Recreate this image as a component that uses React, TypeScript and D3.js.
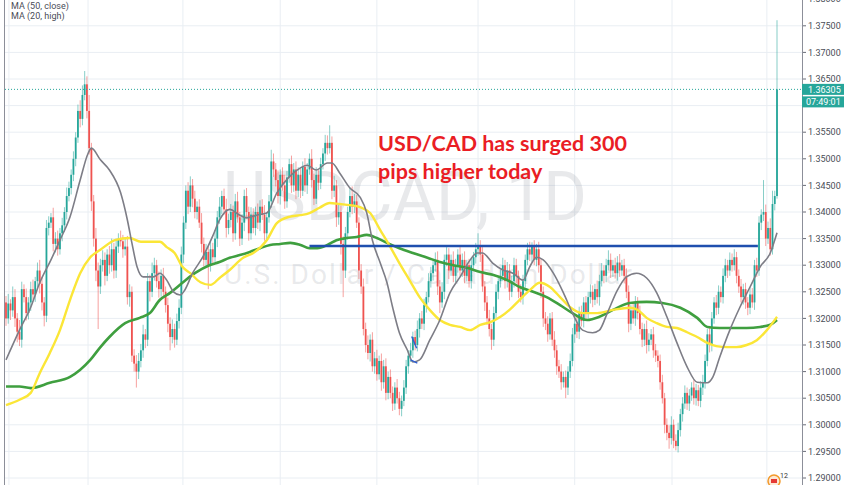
import React from 'react';
import * as d3 from 'd3';

// Daily USD/CAD closes in pips above 1.0000 (e.g. 3215 -> 1.3215)
const closes: number[] = [
  3200, 3228, 3215, 3240, 3200, 3175, 3160, 3255, 3240, 3210,
  3230, 3255, 3245, 3270, 3290, 3265, 3230, 3205, 3370, 3380,
  3390, 3340, 3350, 3330, 3360, 3375, 3400, 3430, 3445, 3470,
  3500, 3540, 3590, 3575, 3620, 3640, 3590, 3520, 3420, 3350,
  3290, 3260, 3300, 3310, 3280, 3320, 3300, 3330, 3290, 3335,
  3350, 3345, 3330, 3335, 3240, 3250, 3130, 3115, 3100, 3120,
  3140, 3170, 3160, 3270, 3250, 3285, 3300, 3270, 3255, 3280,
  3250, 3225, 3190, 3165, 3180, 3160, 3195, 3220, 3320, 3380,
  3440, 3410, 3450, 3425, 3400, 3410, 3380, 3340, 3310, 3325,
  3300, 3330, 3315, 3350, 3390, 3410, 3430, 3405, 3370, 3385,
  3400, 3360, 3420, 3390, 3350, 3380, 3430, 3400, 3360, 3395,
  3370, 3400, 3380, 3410, 3395, 3360, 3390, 3420, 3495, 3480,
  3460, 3430, 3470, 3450, 3420, 3465, 3490, 3450, 3480, 3440,
  3470, 3440, 3485, 3450, 3480, 3500, 3460, 3425, 3470, 3455,
  3490, 3510, 3530, 3520, 3530, 3440, 3450, 3390, 3400, 3340,
  3290, 3360, 3400, 3430, 3410, 3420, 3380, 3290, 3260, 3180,
  3150, 3135, 3160, 3110, 3125, 3095, 3120, 3080, 3110, 3060,
  3090, 3060, 3040, 3070, 3050, 3030, 3045, 3070, 3110, 3130,
  3140, 3165, 3150, 3180, 3200, 3190, 3225, 3240, 3270, 3285,
  3300, 3310, 3260, 3230, 3250, 3310, 3320, 3290, 3310, 3280,
  3300, 3320, 3290, 3310, 3280, 3300, 3270, 3300, 3315, 3330,
  3335, 3320, 3260, 3230, 3200, 3180, 3160, 3210, 3250, 3270,
  3280, 3300, 3270, 3290, 3250, 3270, 3300, 3280, 3250, 3240,
  3270, 3310, 3330, 3320, 3335, 3310, 3330, 3300, 3250, 3200,
  3190, 3170, 3200, 3160, 3140, 3110, 3100, 3080, 3090, 3070,
  3100, 3120, 3170, 3190, 3175, 3210, 3195, 3230, 3210, 3240,
  3250, 3235, 3255, 3240, 3270, 3290, 3280, 3300, 3310, 3290,
  3300, 3285, 3305, 3290, 3300, 3280, 3250, 3190, 3215, 3200,
  3230, 3210, 3180, 3160, 3180, 3150, 3160, 3170, 3140, 3130,
  3120, 3080, 3050, 3000, 2985, 2975, 3000, 2970, 2960, 2990,
  3020, 3040, 3060, 3040, 3055, 3070, 3050, 3065, 3045, 3070,
  3080, 3120, 3170, 3150, 3200, 3230, 3220, 3250, 3240, 3280,
  3300, 3290, 3310, 3300, 3315, 3280, 3260, 3240, 3255, 3230,
  3220, 3245, 3230, 3300, 3290, 3380, 3395, 3400, 3350, 3370, 3330, 3415, 3430, 3630.5,
];
const firstOpen = 3230;

// Upper / lower shadows in pips beyond the candle body
const upperWicks: number[] = [
  12, 18, 8, 20, 15, 10, 22, 14, 9, 16,
  10, 14, 18, 8, 15, 20, 12, 10, 15, 12,
  8, 18, 12, 15, 10, 14, 9, 16, 12, 10,
  14, 10, 12, 20, 18, 25, 15, 30, 10, 12,
  20, 15, 12, 18, 14, 10, 16, 20, 12, 15,
  10, 15, 12, 18, 20, 14, 10, 12, 16, 15,
  12, 18, 10, 15, 12, 20, 14, 10, 18, 12,
  15, 10, 14, 12, 18, 10, 14, 16, 15, 12,
  10, 16, 17, 12, 15, 10, 14, 18, 12, 15,
  10, 14, 12, 16, 12, 18, 10, 14, 20, 12,
  15, 12, 14, 18, 10, 16, 12, 15, 10, 14,
  12, 10, 16, 12, 14, 18, 10, 12, 22, 15,
  12, 18, 10, 14, 20, 12, 10, 16, 12, 15,
  14, 12, 10, 16, 12, 10, 18, 12, 14, 10,
  12, 10, 15, 14, 33, 12, 18, 10, 15, 12,
  14, 12, 10, 15, 18, 14, 12, 10, 12, 15,
  12, 18, 10, 14, 12, 16, 10, 14, 12, 15,
  10, 14, 12, 10, 16, 12, 10, 14, 12, 10,
  14, 10, 12, 16, 10, 14, 12, 10, 15, 12,
  10, 14, 16, 12, 18, 10, 14, 12, 10, 16,
  12, 10, 14, 12, 16, 10, 12, 14, 10, 12,
  25, 12, 14, 10, 12, 16, 10, 12, 14, 10,
  12, 14, 10, 16, 12, 10, 14, 12, 10, 14,
  12, 10, 12, 14, 8, 12, 10, 14, 12, 10,
  12, 14, 10, 12, 16, 10, 12, 14, 10, 12,
  10, 14, 12, 10, 16, 12, 14, 10, 12, 10,
  14, 12, 10, 16, 12, 14, 10, 12, 18, 12,
  10, 14, 12, 16, 10, 12, 14, 12, 10, 14,
  12, 10, 14, 12, 10, 16, 12, 10, 14, 12,
  10, 12, 14, 10, 12, 14, 16, 10, 12, 14,
  10, 12, 14, 10, 12, 10, 14, 12, 10, 12,
  14, 12, 10, 16, 12, 10, 14, 12, 10, 14,
  12, 10, 14, 12, 15, 10, 12, 14, 10, 12,
  10, 14, 12, 10, 14, 12, 10, 60, 14, 12, 18, 25, 10, 130,
];
const lowerWicks: number[] = [
  14, 10, 18, 12, 16, 20, 12, 15, 10, 14,
  12, 16, 10, 14, 12, 18, 15, 20, 12, 14,
  10, 14, 16, 12, 10, 15, 12, 14, 10, 12,
  12, 14, 10, 16, 12, 10, 14, 12, 18, 15,
  20, 80, 14, 12, 18, 10, 16, 12, 15, 14,
  12, 10, 16, 12, 14, 18, 12, 15, 30, 14,
  12, 14, 16, 12, 18, 10, 14, 12, 16, 14,
  12, 14, 16, 25, 12, 15, 10, 14, 12, 16,
  12, 14, 10, 16, 12, 14, 10, 16, 12, 15,
  45, 12, 14, 10, 16, 12, 14, 10, 18, 12,
  14, 16, 12, 10, 14, 12, 16, 10, 14, 12,
  10, 14, 12, 16, 10, 14, 12, 10, 12, 14,
  12, 14, 16, 10, 14, 12, 10, 14, 12, 16,
  12, 14, 10, 12, 16, 10, 14, 12, 10, 14,
  12, 10, 14, 12, 10, 16, 12, 18, 14, 20,
  50, 14, 12, 10, 14, 12, 10, 16, 14, 12,
  14, 12, 16, 10, 14, 12, 10, 16, 12, 14,
  12, 10, 14, 12, 10, 12, 14, 10, 12, 14,
  12, 14, 10, 12, 16, 10, 12, 14, 10, 12,
  14, 12, 16, 20, 10, 14, 12, 16, 10, 12,
  12, 14, 10, 12, 14, 10, 12, 14, 10, 12,
  12, 14, 10, 16, 12, 14, 19, 12, 10, 14,
  12, 10, 14, 12, 16, 10, 12, 14, 12, 10,
  14, 12, 10, 12, 14, 10, 12, 14, 12, 16,
  12, 14, 10, 12, 14, 16, 12, 14, 10, 20,
  14, 12, 10, 16, 12, 14, 10, 12, 14, 10,
  12, 14, 10, 12, 16, 10, 14, 12, 10, 14,
  12, 10, 14, 12, 10, 14, 12, 16, 12, 10,
  14, 12, 10, 14, 12, 16, 12, 10, 14, 12,
  12, 14, 10, 16, 14, 20, 12, 14, 8, 12,
  12, 14, 10, 12, 14, 10, 12, 14, 10, 12,
  14, 12, 10, 14, 12, 10, 14, 12, 10, 12,
  12, 14, 10, 12, 10, 14, 12, 10, 14, 12,
  14, 12, 10, 14, 12, 10, 14, 12, 14, 10, 12, 10, 12, 5,
];

// Moving averages: [candle index, pips]
const maGray: [number, number][] = [
  [0, 3122], [6, 3178], [11, 3221], [15, 3267], [20, 3310], [24, 3347], [28.5, 3391], [33, 3460],
  [36.5, 3510], [38, 3520], [42, 3498], [46, 3479], [51, 3436], [54, 3385], [56, 3342], [58.3, 3297],
  [61, 3278], [65.5, 3278], [68.5, 3285], [71.5, 3272], [74.5, 3250], [77.5, 3244], [79.5, 3253],
  [83, 3285], [87.5, 3315], [92, 3355], [95, 3385], [99.5, 3405], [104, 3394], [107, 3389],
  [111.5, 3394], [116, 3398], [120.5, 3436], [126, 3466], [131, 3483], [134, 3488], [138, 3479],
  [143, 3492], [145, 3492], [148.5, 3473], [153, 3445], [157.5, 3428], [160.5, 3398], [163, 3347],
  [166.5, 3304], [169.5, 3267], [172, 3221], [175, 3173], [178.5, 3141], [181, 3118], [184, 3122],
  [188.5, 3159], [193, 3197], [197.5, 3248], [202, 3278], [206.5, 3310], [209.5, 3323], [212, 3323],
  [216.5, 3304], [221, 3291], [225.5, 3285], [230, 3272], [233, 3297], [236, 3315], [239, 3310],
  [243.5, 3285], [248, 3248], [252, 3210], [256.5, 3178], [261, 3173], [264, 3178], [267.5, 3210],
  [272, 3253], [276, 3278], [280.5, 3285], [285, 3276], [289.5, 3248], [294, 3203], [298.5, 3154],
  [303, 3109], [307.5, 3080], [312, 3079], [314.5, 3090], [317.5, 3127], [322, 3178], [326.5, 3221],
  [331, 3259], [335.5, 3297], [340, 3323], [343, 3361],
];
const maYellow: [number, number][] = [
  [0, 3037], [6, 3047], [11, 3060], [15, 3097], [19.5, 3135], [24, 3178], [28.5, 3235], [33, 3285],
  [37.5, 3315], [42, 3329], [48.5, 3347], [55, 3351], [60, 3344], [68.5, 3344], [71.5, 3334],
  [75, 3323], [78.5, 3297], [82, 3285], [86.5, 3268], [91, 3263], [95, 3276], [99.5, 3291],
  [105.5, 3314], [110, 3323], [116, 3347], [120.5, 3379], [126, 3391], [131, 3394], [135, 3398],
  [139.5, 3408], [144, 3417], [148.5, 3415], [153, 3413], [157.5, 3409], [162, 3398], [166.5, 3366],
  [171, 3334], [175, 3304], [179.5, 3272], [184, 3240], [188.5, 3216], [193, 3197], [197.5, 3188],
  [202, 3184], [206.5, 3178], [211, 3188], [215.5, 3193], [220, 3203], [224, 3216], [228.5, 3235],
  [233, 3253], [237.5, 3267], [242, 3259], [246.5, 3240], [251, 3221], [256.5, 3210], [263, 3210],
  [270, 3216], [277.5, 3220], [281, 3216], [285, 3201], [289.5, 3191], [294, 3184], [298.5, 3182],
  [303, 3174], [307.5, 3165], [312, 3154], [316, 3148], [321, 3146], [325, 3146], [329.5, 3150],
  [334, 3159], [338.5, 3178], [343, 3203],
];
const maGreen: [number, number][] = [
  [0, 3072], [6, 3072], [11, 3069], [19.5, 3079], [28.5, 3090], [37.5, 3122], [42, 3146], [46, 3165],
  [53, 3191], [59.5, 3201], [64, 3210], [68.5, 3235], [73, 3248], [78.5, 3267], [84, 3285],
  [90.5, 3300], [95, 3306], [99.5, 3314], [104, 3319], [108.5, 3325], [113, 3332], [117.5, 3338],
  [122, 3340], [126.5, 3342], [131, 3338], [135, 3332], [138.5, 3332], [143, 3338], [147, 3347],
  [151.5, 3351], [156, 3353], [160.5, 3357], [165, 3351], [169.5, 3342], [175, 3332], [181, 3323],
  [187.5, 3314], [193, 3306], [199, 3300], [205, 3295], [211, 3287], [216.5, 3282], [223, 3272],
  [228.5, 3259], [234.5, 3250], [240.5, 3240], [246.5, 3225], [252, 3210], [258.5, 3197], [264, 3203],
  [270, 3216], [277.5, 3229], [285, 3231], [292, 3229], [300, 3220], [307.5, 3201], [312, 3184],
  [317.5, 3182], [323.5, 3182], [329.5, 3182], [335.5, 3184], [340, 3188], [343, 3197],
];

const priceTickLabels = [
  '1.29000', '1.29500', '1.30000', '1.30500', '1.31000', '1.31500', '1.32000', '1.32500', '1.33000',
  '1.33500', '1.34000', '1.34500', '1.35000', '1.35500', '1.36000', '1.36500', '1.37000', '1.37500', '1.38000',
];
// candle indices of the period starts marked by vertical grid lines
const periodStartIdx = [1.3, 36.5, 78.7, 122, 165, 210, 253, 296.3, 338.5];
// horizontal resistance drawn on the chart: [startIdx, endIdx, pips]
const resistance: [number, number, number] = [135, 334.5, 3336];
// small blue drawing near the July low: segments [idx1, pips1, idx2, pips2]
const markerSegments: [number, number, number, number][] = [
  [180.5, 3166, 182.7, 3144],
  [180, 3122, 183, 3116],
];
const lastPriceLabel = '1.36305';
const lastPrice = 1.36305;
const countdownLabel = '07:49:01';
const legendLabels = ['MA (50, close)', 'MA (20, high)'];
const watermarkTitle = 'USDCAD, 1D';
const watermarkSubtitle = 'U.S. Dollar / Canadian Dollar';
const annotationLines = ['USD/CAD has surged 300', 'pips higher today'];

export default function App() {
  const W = 852;
  const H = 485;
  const plotLeft = 5;
  const plotRight = 802;
  const x = d3.scaleLinear().domain([0, closes.length - 1]).range([6, 777]);
  const y = d3.scaleLinear().domain([1.29, 1.38]).range([478, -0.8]);
  const px = (v: number) => 1 + v / 10000;

  const candles = closes.map((c, i) => {
    const o = i === 0 ? firstOpen : closes[i - 1];
    return {
      i,
      o: px(o),
      c: px(c),
      h: px(Math.max(o, c) + upperWicks[i]),
      l: px(Math.min(o, c) - lowerWicks[i]),
    };
  });

  const line = d3
    .line<[number, number]>()
    .x((d) => x(d[0]))
    .y((d) => y(px(d[1])))
    .curve(d3.curveMonotoneX);

  const up = '#26a69a';
  const down = '#ef5350';
  const grid = '#e9eef3';
  const font = 'Roboto, "Liberation Sans", sans-serif';
  const yLast = y(lastPrice);
  // the last-price and countdown tags hide axis labels underneath them
  const visibleTicks = priceTickLabels.filter((t) => {
    const ty = y(+t);
    return !(ty > yLast - 8 && ty < yLast + 21);
  });

  return (
    <svg
      width={W}
      height={H}
      viewBox={`0 0 ${W} ${H}`}
      style={{ position: 'absolute', left: 0, top: 0, background: '#fff', display: 'block' }}
    >
      <defs>
        <clipPath id="plotClip">
          <rect x={plotLeft} y={0} width={plotRight - plotLeft} height={H} />
        </clipPath>
      </defs>
      <rect x={0} y={0} width={W} height={H} fill="#ffffff" />

      <g clipPath="url(#plotClip)">
        {priceTickLabels.map((t) => (
          <line key={t} x1={plotLeft} x2={plotRight} y1={y(+t)} y2={y(+t)} stroke={grid} strokeWidth={1} />
        ))}
        {periodStartIdx.map((m) => (
          <line key={m} x1={x(m)} x2={x(m)} y1={0} y2={H} stroke={grid} strokeWidth={1} />
        ))}

        <text
          x={405}
          y={220}
          textAnchor="middle"
          fontFamily={font}
          fontSize={68}
          fill="#787b86"
          fillOpacity={0.17}
          textLength={364}
          lengthAdjust="spacingAndGlyphs"
        >
          {watermarkTitle}
        </text>
        <text
          x={428}
          y={284}
          textAnchor="middle"
          fontFamily={font}
          fontSize={28}
          fill="#787b86"
          fillOpacity={0.17}
          textLength={408}
          lengthAdjust="spacing"
        >
          {watermarkSubtitle}
        </text>

        {candles.map((d) => {
          const col = d.c >= d.o ? up : down;
          const top = y(Math.max(d.o, d.c));
          const bot = y(Math.min(d.o, d.c));
          return (
            <g key={d.i}>
              <line x1={x(d.i)} x2={x(d.i)} y1={y(d.h)} y2={y(d.l)} stroke={col} strokeOpacity={0.55} strokeWidth={1} />
              <rect x={x(d.i) - 0.9} y={top} width={1.8} height={Math.max(1, bot - top)} fill={col} />
            </g>
          );
        })}

        <path d={line(maGreen) || ''} fill="none" stroke="#3f9f3f" strokeWidth={2.6} />
        <path d={line(maYellow) || ''} fill="none" stroke="#fbe637" strokeWidth={2.4} />
        <path d={line(maGray) || ''} fill="none" stroke="#7d7d86" strokeWidth={1.6} />

        <line
          x1={x(resistance[0])}
          x2={x(resistance[1])}
          y1={y(px(resistance[2]))}
          y2={y(px(resistance[2]))}
          stroke="#1f4fae"
          strokeWidth={2.4}
        />
        {markerSegments.map((s, k) => (
          <line
            key={k}
            x1={x(s[0])}
            y1={y(px(s[1]))}
            x2={x(s[2])}
            y2={y(px(s[3]))}
            stroke="#2f5fd0"
            strokeWidth={1.4}
          />
        ))}

        <line
          x1={plotLeft}
          x2={plotRight}
          y1={yLast}
          y2={yLast}
          stroke={up}
          strokeWidth={1}
          strokeDasharray="1 2"
        />
      </g>

      {/* frame */}
      <line x1={4.5} x2={4.5} y1={0} y2={H} stroke="#8c8f99" strokeWidth={1} />
      <line x1={802.5} x2={802.5} y1={0} y2={H} stroke="#8c8f99" strokeWidth={1} />

      {/* price axis */}
      {priceTickLabels.map((t) => (
        <line key={'tk' + t} x1={803} x2={806} y1={y(+t)} y2={y(+t)} stroke="#6a6d78" strokeWidth={1} />
      ))}
      {visibleTicks.map((t) => (
        <text key={t} x={808} y={y(+t)} dy="0.35em" fontFamily={font} fontSize={9} fill="#4a4d57">
          {t}
        </text>
      ))}

      <rect x={802} y={yLast - 5.5} width={42} height={11} fill={up} />
      <text x={808} y={yLast} dy="0.35em" fontFamily={font} fontSize={9} fill="#ffffff">
        {lastPriceLabel}
      </text>
      <rect x={802} y={yLast + 7} width={42} height={11} fill={up} />
      <text x={806} y={yLast + 12.5} dy="0.35em" fontFamily={font} fontSize={9} fill="#ffffff">
        {countdownLabel}
      </text>

      {/* legend */}
      {legendLabels.map((l, k) => (
        <text key={l} x={11} y={8.5 + k * 10.5} fontFamily={font} fontSize={9} fill="#4a4d57">
          {l}
        </text>
      ))}

      {/* annotation */}
      {annotationLines.map((l, k) => (
        <text
          key={l}
          x={378}
          y={150.5 + k * 28}
          fontFamily='Lato, "Open Sans", sans-serif'
          fontWeight={700}
          fontSize={21.5}
          fill="#ea1d24"
        >
          {l}
        </text>
      ))}

      {/* small flag icon at bottom right */}
      <circle cx={774} cy={481} r={6} fill="#fde9d6" stroke="#f39a2b" strokeWidth={1.5} />
      <rect x={771} y={479} width={6} height={4} fill="#e53935" />
      <text x={780} y={478} fontFamily={font} fontSize={7} fill="#333">
        12
      </text>
    </svg>
  );
}
